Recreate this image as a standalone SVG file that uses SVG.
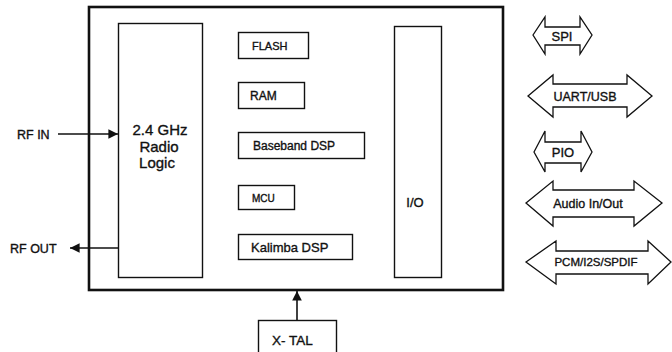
<svg xmlns="http://www.w3.org/2000/svg" width="672" height="352" viewBox="0 0 672 352">
<style>
  text { font-family: "Liberation Sans", Arial, sans-serif; fill: #111; stroke: #111; stroke-width: 0.35; }
  .box { fill: #fff; stroke: #111; stroke-width: 1.4; }
  .outer { fill: #fff; stroke: #111; stroke-width: 2.6; }
  .conn { stroke: #111; stroke-width: 1.6; fill: none; }
  .dbl { fill: #fff; stroke: #111; stroke-width: 1.3; stroke-linejoin: miter; }
</style>
<defs>
  <marker id="ah" viewBox="0 0 10 10" refX="10" refY="5" markerWidth="7" markerHeight="6" orient="auto" markerUnits="strokeWidth">
    <path d="M0,0 L10,5 L0,10 Z" fill="#111"/>
  </marker>
</defs>
<rect width="672" height="352" fill="#fff"/>

<g id="chip">
  <rect class="outer" x="89" y="7" width="414" height="283"/>
</g>

<g id="radio">
  <rect class="box" x="118.5" y="23.5" width="84" height="254"/>
  <text x="160" y="135" font-size="15" text-anchor="middle">2.4 GHz</text>
  <text x="159" y="152" font-size="15" text-anchor="middle">Radio</text>
  <text x="157" y="168" font-size="15" text-anchor="middle">Logic</text>
</g>

<g id="flash">
  <rect class="box" x="238.5" y="32.5" width="70" height="26"/>
  <text x="252" y="49.5" font-size="11">FLASH</text>
</g>
<g id="ram">
  <rect class="box" x="238.5" y="82.5" width="66" height="26"/>
  <text x="250" y="100" font-size="12">RAM</text>
</g>
<g id="baseband">
  <rect class="box" x="238.5" y="132.5" width="126" height="26"/>
  <text x="253" y="150" font-size="12">Baseband DSP</text>
</g>
<g id="mcu">
  <rect class="box" x="238.5" y="185.5" width="56" height="24"/>
  <text x="252" y="201.5" font-size="10">MCU</text>
</g>
<g id="kalimba">
  <rect class="box" x="238.5" y="234.5" width="114" height="25"/>
  <text x="251" y="252" font-size="13">Kalimba DSP</text>
</g>
<g id="io">
  <rect class="box" x="394.5" y="26.5" width="47" height="251"/>
  <text x="415" y="207" font-size="13" text-anchor="middle">I/O</text>
</g>

<g id="rfin">
  <text x="17" y="138.5" font-size="12.5">RF IN</text>
</g>
<g id="rfout">
  <text x="10" y="253" font-size="12.5">RF OUT</text>
</g>
<g id="xtal">
  <rect class="box" x="258.5" y="320.5" width="78" height="40"/>
  <text x="272" y="345" font-size="13.5">X- TAL</text>
</g>

<g id="connectors">
  <line class="conn" x1="58" y1="134" x2="118" y2="134" marker-end="url(#ah)"/>
  <line class="conn" x1="118" y1="248" x2="70" y2="248" marker-end="url(#ah)"/>
  <line class="conn" x1="297" y1="320" x2="297" y2="291" marker-end="url(#ah)"/>
</g>

<g id="spi">
  <path class="dbl" d="M533,35 L545,17 L545,27 L580,27 L580,17 L592,35 L580,54 L580,45 L545,45 L545,54 Z"/>
  <text x="562" y="41" font-size="13" text-anchor="middle">SPI</text>
</g>
<g id="uart">
  <path class="dbl" d="M528,96 L553,75 L553,84 L627,84 L627,75 L652,96 L627,117 L627,107 L553,107 L553,117 Z"/>
  <text x="585" y="101" font-size="12.5" text-anchor="middle">UART/USB</text>
</g>
<g id="pio">
  <path class="dbl" d="M534,152 L545,131 L545,142 L581,142 L581,131 L592,152 L581,172 L581,163 L545,163 L545,172 Z"/>
  <text x="563" y="157" font-size="13" text-anchor="middle">PIO</text>
</g>
<g id="audio">
  <path class="dbl" d="M526,203 L553,181 L553,190 L634,190 L634,181 L662,203 L634,226 L634,217 L553,217 L553,226 Z"/>
  <text x="588" y="208" font-size="12.5" text-anchor="middle">Audio In/Out</text>
</g>
<g id="pcm">
  <path class="dbl" d="M526,262 L556,241 L556,251 L648,251 L648,241 L671,262 L648,284 L648,274 L556,274 L556,284 Z"/>
  <text x="596" y="266" font-size="11.5" text-anchor="middle">PCM/I2S/SPDIF</text>
</g>
</svg>
